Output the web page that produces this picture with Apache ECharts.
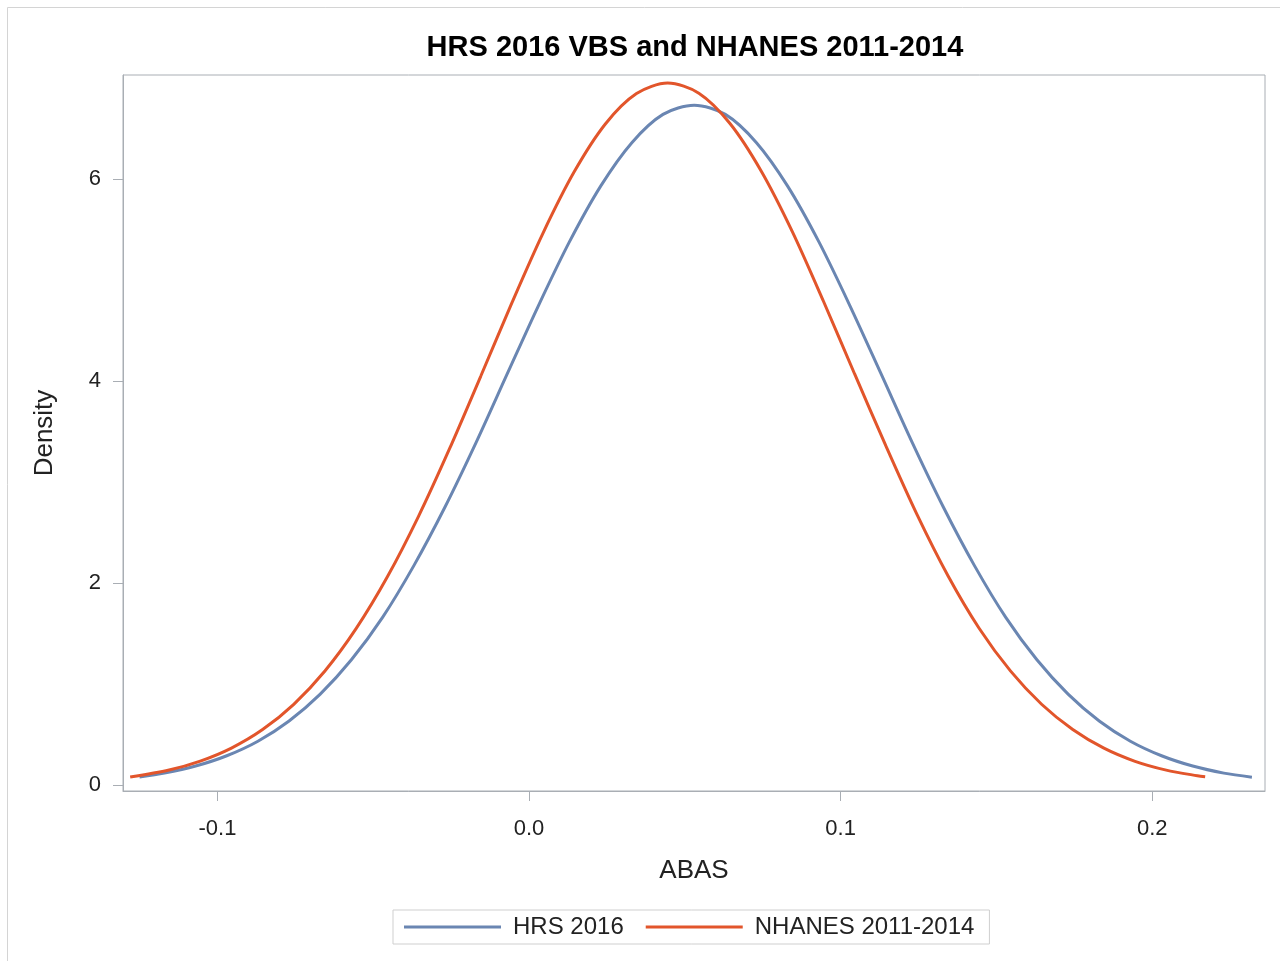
<!DOCTYPE html>
<html>
<head>
<meta charset="utf-8">
<script src="https://cdn.jsdelivr.net/npm/echarts@6/dist/echarts.min.js"></script>
<style>
  html, body { margin: 0; padding: 0; background: #ffffff; }
  #chart { width: 1280px; height: 961px; }
</style>
</head>
<body>
<div id="chart"></div>
<script>
// ---- Data ----
const hrsX = [-0.125, -0.117, -0.107, -0.097, -0.087, -0.077, -0.067, -0.057, -0.047, -0.037, -0.027, -0.017, -0.007, 0.003, 0.013, 0.023, 0.033, 0.043, 0.053, 0.063, 0.073, 0.083, 0.093, 0.103, 0.113, 0.123, 0.133, 0.143, 0.153, 0.163, 0.173, 0.183, 0.193, 0.203, 0.213, 0.223, 0.232];
const hrsY = [0.08, 0.118, 0.188, 0.29, 0.434, 0.634, 0.90, 1.24, 1.66, 2.17, 2.75, 3.39, 4.07, 4.745, 5.38, 5.93, 6.36, 6.64, 6.73, 6.64, 6.36, 5.93, 5.38, 4.745, 4.07, 3.39, 2.75, 2.17, 1.66, 1.24, 0.90, 0.634, 0.434, 0.29, 0.188, 0.118, 0.078];

const nhanesX = [-0.128, -0.1155, -0.1055, -0.0955, -0.0855, -0.0755, -0.0655, -0.0555, -0.0455, -0.0355, -0.0255, -0.0155, -0.0055, 0.0045, 0.0145, 0.0245, 0.0345, 0.0445, 0.0545, 0.0645, 0.0745, 0.0845, 0.0945, 0.1045, 0.1145, 0.1245, 0.1345, 0.1445, 0.1545, 0.1645, 0.1745, 0.1845, 0.1945, 0.2045, 0.2145, 0.217];
const nhanesY = [0.08, 0.149, 0.237, 0.366, 0.549, 0.799, 1.129, 1.548, 2.059, 2.658, 3.33, 4.047, 4.774, 5.465, 6.071, 6.545, 6.846, 6.95, 6.85, 6.55, 6.08, 5.48, 4.79, 4.07, 3.36, 2.68, 2.07, 1.55, 1.13, 0.80, 0.55, 0.365, 0.235, 0.148, 0.092, 0.082];

const seriesNames = ['HRS 2016', 'NHANES 2011-2014'];
const xTicks = [-0.1, 0.0, 0.1, 0.2];
const yTicks = [0, 2, 4, 6];
const titleText = 'HRS 2016 VBS and NHANES 2011-2014';
const xName = 'ABAS';
const yName = 'Density';

// ---- Chart ----
const FONT = '"Liberation Sans", Arial, sans-serif';
const FRAME = '#a9aeb4';
const chart = echarts.init(document.getElementById('chart'), null, { renderer: 'canvas' });

const zip = (xs, ys) => xs.map((x, i) => [x, ys[i]]);

chart.setOption({
  backgroundColor: '#ffffff',
  animation: false,
  graphic: [{
    type: 'rect',
    shape: { x: 7.5, y: 7.5, width: 1400, height: 1100 },
    style: { fill: 'none', stroke: '#d4d4d4', lineWidth: 1 },
    silent: true
  }],
  title: {
    text: titleText,
    left: 690,
    top: 28,
    textAlign: 'center',
    textStyle: { fontFamily: FONT, fontSize: 29, fontWeight: 'bold', color: '#000000' }
  },
  legend: {
    data: seriesNames,
    left: 393,
    top: 910,
    orient: 'horizontal',
    padding: [5, 15, 5, 11],
    borderColor: '#cfcfcf',
    borderWidth: 1,
    itemWidth: 97,
    itemHeight: 3,
    itemGap: 22,
    icon: 'rect',
    textStyle: { fontFamily: FONT, fontSize: 24, color: '#222222', padding: [0, 0, 0, 7] }
  },
  grid: {
    left: 123,
    top: 75,
    width: 1142,
    height: 716,
    show: true,
    borderColor: FRAME,
    borderWidth: 1,
    backgroundColor: '#ffffff'
  },
  xAxis: {
    type: 'value',
    min: -0.1303,
    max: 0.2362,
    name: xName,
    nameLocation: 'middle',
    nameGap: 67,
    nameTextStyle: { fontFamily: FONT, fontSize: 26, color: '#222222' },
    axisLine: { show: true, onZero: false, lineStyle: { color: FRAME, width: 1 } },
    axisTick: { show: true, length: 10, inside: false, customValues: xTicks, lineStyle: { color: FRAME } },
    axisLabel: {
      customValues: xTicks,
      margin: 27,
      fontFamily: FONT, fontSize: 22, color: '#222222',
      formatter: v => v.toFixed(1)
    },
    splitLine: { show: false }
  },
  yAxis: {
    type: 'value',
    min: -0.059,
    max: 7.03,
    name: yName,
    nameLocation: 'middle',
    nameGap: 65,
    nameTextStyle: { fontFamily: FONT, fontSize: 26, color: '#222222' },
    axisLine: { show: true, onZero: false, lineStyle: { color: FRAME, width: 1 } },
    axisTick: { show: true, length: 10, inside: false, customValues: yTicks, lineStyle: { color: FRAME } },
    axisLabel: {
      customValues: yTicks,
      margin: 22,
      fontFamily: FONT, fontSize: 22, color: '#222222',
      formatter: v => String(v)
    },
    splitLine: { show: false }
  },
  series: [
    {
      name: seriesNames[0],
      type: 'line',
      data: zip(hrsX, hrsY),
      smooth: 0.3,
      symbol: 'none',
      color: '#6a86b2',
      lineStyle: { color: '#6a86b2', width: 3 }
    },
    {
      name: seriesNames[1],
      type: 'line',
      data: zip(nhanesX, nhanesY),
      smooth: 0.3,
      symbol: 'none',
      color: '#e2552b',
      lineStyle: { color: '#e2552b', width: 3 }
    }
  ]
});
</script>
</body>
</html>
